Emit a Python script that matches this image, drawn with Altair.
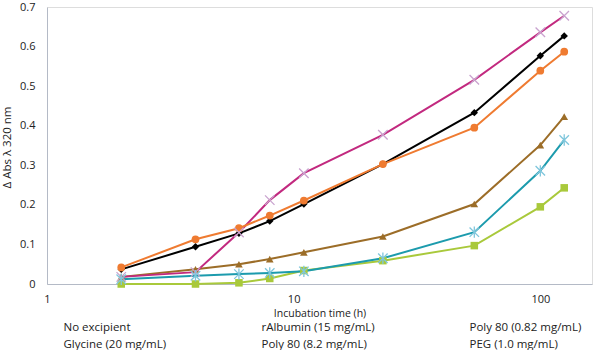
import altair as alt
import pandas as pd

hours = [2, 4, 6, 8, 11, 23, 54, 100, 125]

series_names = ["No excipient", "rAlbumin (15 mg/mL)", "Poly 80 (0.82 mg/mL)",
                "Glycine (20 mg/mL)", "Poly 80 (8.2 mg/mL)", "PEG (1.0 mg/mL)"]

no_excipient = [0.037, 0.094, 0.128, 0.159, 0.202, 0.303, 0.433, 0.577, 0.627]
ralbumin     = [0.000, 0.000, 0.003, 0.014, 0.034, 0.059, 0.097, 0.195, 0.243]
poly80_low   = [0.018, 0.037, 0.050, 0.063, 0.080, 0.120, 0.202, 0.351, 0.423]
glycine      = [0.018, 0.030, 0.130, 0.212, 0.280, 0.377, 0.516, 0.636, 0.678]
poly80_high  = [0.012, 0.021, 0.025, 0.028, 0.032, 0.065, 0.131, 0.286, 0.364]
peg          = [0.042, 0.113, 0.141, 0.173, 0.211, 0.303, 0.395, 0.539, 0.587]

line_colors = ["#000000", "#a9c93b", "#9c6d28", "#c2297f", "#1c9bad", "#ef7b31"]

values = [no_excipient, ralbumin, poly80_low, glycine, poly80_high, peg]
rows = []
for name, vals in zip(series_names, values):
    for h, v in zip(hours, vals):
        rows.append({"series": name, "hours": h, "value": v})
df = pd.DataFrame(rows)

FONT = "Open Sans"
TXT = "#222222"

x = alt.X("hours:Q", scale=alt.Scale(type="log", domain=[1, 162], nice=False),
          axis=alt.Axis(values=[1, 10, 100], format="d", title="Incubation time (h)",
                        grid=False, ticks=False, domain=True, domainColor="#b4bac6",
                        labelPadding=9, titlePadding=4, labelFontSize=11, titleFontSize=10.5,
                        labelColor=TXT, titleColor=TXT, titleFontWeight="normal",
                        labelFont=FONT, titleFont=FONT, labelFlush=False))
y = alt.Y("value:Q", scale=alt.Scale(domain=[0, 0.7], nice=False),
          axis=alt.Axis(values=[0, 0.1, 0.2, 0.3, 0.4, 0.5, 0.6, 0.7], format="~g",
                        title="Δ Abs λ 320 nm", grid=False, ticks=False, domain=True,
                        domainColor="#b4bac6", labelPadding=12, labelFontSize=11,
                        titleFontSize=11.5, labelColor=TXT, titleColor=TXT,
                        titleFontWeight="normal", labelFont=FONT, titleFont=FONT,
                        titleX=-37, titleY=140, titleAngle=270, titleAlign="center",
                        titleBaseline="alphabetic"))

color_scale = alt.Scale(domain=series_names, range=line_colors)

lines = alt.Chart(df).mark_line(strokeWidth=2).encode(
    x=x, y=y,
    color=alt.Color("series:N", scale=color_scale, sort=series_names,
                    legend=alt.Legend(title=None, orient="none", legendX=5, legendY=315,
                                      direction="horizontal", columns=3,
                                      symbolOpacity=0, symbolSize=0, symbolStrokeWidth=0,
                                      labelFontSize=11.5, labelFont=FONT, labelColor=TXT,
                                      columnPadding=83, rowPadding=4, labelOffset=0,
                                      symbolType="circle", labelLimit=200)),
    detail="series:N",
)

filled_names = ["No excipient", "rAlbumin (15 mg/mL)", "Poly 80 (0.82 mg/mL)", "PEG (1.0 mg/mL)"]
filled_shapes = ["diamond", "square", "triangle-up", "circle"]
filled_colors = ["#000000", "#a9c93b", "#9c6d28", "#ef7b31"]
filled_sizes = [55, 60, 60, 80]

filled = alt.Chart(df).transform_filter(
    alt.FieldOneOfPredicate(field="series", oneOf=filled_names)
).mark_point(filled=True, opacity=1).encode(
    x=x, y=y,
    shape=alt.Shape("series:N", scale=alt.Scale(domain=filled_names, range=filled_shapes), legend=None),
    color=alt.Color("series:N", scale=alt.Scale(domain=filled_names, range=filled_colors), legend=None),
    size=alt.Size("series:N", scale=alt.Scale(domain=filled_names, range=filled_sizes), legend=None),
)

stroked_names = ["Glycine (20 mg/mL)", "Poly 80 (8.2 mg/mL)"]
stroked_shapes = ["M-1,-1L1,1M-1,1L1,-1", "M-1,-1L1,1M-1,1L1,-1M0,-1.2L0,1.2"]
stroked_colors = ["#c9a3cf", "#7fc6dc"]

stroked = alt.Chart(df).transform_filter(
    alt.FieldOneOfPredicate(field="series", oneOf=stroked_names)
).mark_point(filled=False, opacity=1, strokeWidth=1.3, size=90).encode(
    x=x, y=y,
    shape=alt.Shape("series:N", scale=alt.Scale(domain=stroked_names, range=stroked_shapes), legend=None),
    color=alt.Color("series:N", scale=alt.Scale(domain=stroked_names, range=stroked_colors), legend=None),
)

chart = alt.layer(lines, filled, stroked).resolve_scale(
    color="independent", shape="independent", size="independent"
).properties(
    width=545, height=277,
    autosize=alt.AutoSizeParams(type="none"),
    padding={"left": 47, "top": 7, "right": 6, "bottom": 66},
).configure_view(stroke=None).configure(background="white")

chart.save("out.html", embed_options={"renderer": "svg", "actions": False})
